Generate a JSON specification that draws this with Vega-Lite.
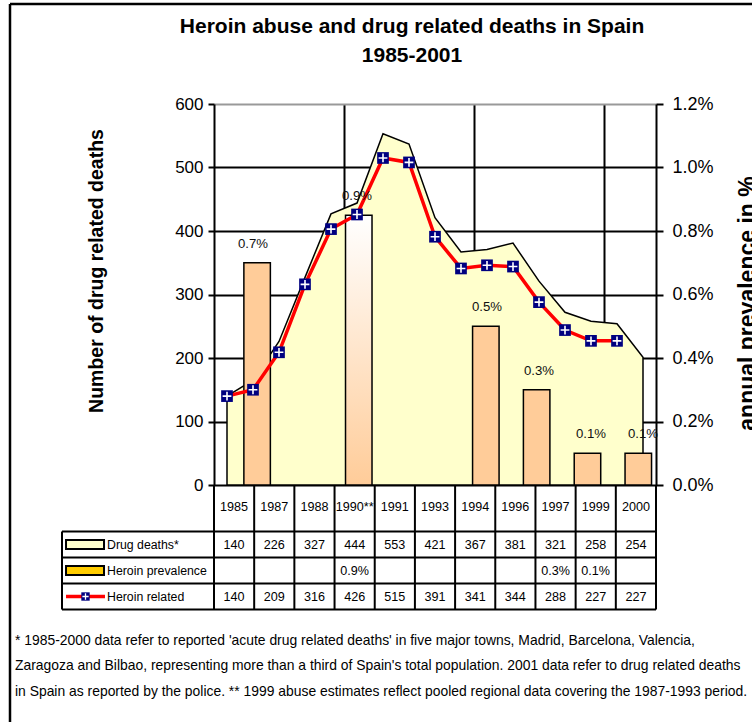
{
  "$schema": "https://vega.github.io/schema/vega-lite/v6.json",
  "autosize": "none",
  "width": 442,
  "height": 381,
  "padding": {"left": 214, "top": 104, "right": 96, "bottom": 237},
  "background": "white",
  "config": {"view": {"stroke": null}, "font": "Liberation Sans"},
  "datasets": {
    "series": [
      {"year": 1985, "deaths": 140, "heroin": 140},
      {"year": 1986, "deaths": 165, "heroin": 150, "prev": 0.007, "label": "0.7%"},
      {"year": 1987, "deaths": 226, "heroin": 209},
      {"year": 1988, "deaths": 327, "heroin": 316},
      {"year": 1989, "deaths": 427, "heroin": 403},
      {"year": 1990, "deaths": 444, "heroin": 426, "prev": 0.0085, "label": "0.9%"},
      {"year": 1991, "deaths": 553, "heroin": 515},
      {"year": 1992, "deaths": 537, "heroin": 508},
      {"year": 1993, "deaths": 421, "heroin": 391},
      {"year": 1994, "deaths": 367, "heroin": 341},
      {"year": 1995, "deaths": 371, "heroin": 346, "prev": 0.005, "label": "0.5%"},
      {"year": 1996, "deaths": 381, "heroin": 344},
      {"year": 1997, "deaths": 321, "heroin": 288, "prev": 0.003, "label": "0.3%"},
      {"year": 1998, "deaths": 272, "heroin": 244},
      {"year": 1999, "deaths": 258, "heroin": 227, "prev": 0.001, "label": "0.1%"},
      {"year": 2000, "deaths": 254, "heroin": 227},
      {"year": 2001, "deaths": 201, "prev": 0.001, "label": "0.1%"}
    ],
    "table": [
      {"col": 0, "year": "1985", "deaths": "140", "prev": "", "heroin": "140"},
      {"col": 1, "year": "1987", "deaths": "226", "prev": "", "heroin": "209"},
      {"col": 2, "year": "1988", "deaths": "327", "prev": "", "heroin": "316"},
      {"col": 3, "year": "1990**", "deaths": "444", "prev": "0.9%", "heroin": "426"},
      {"col": 4, "year": "1991", "deaths": "553", "prev": "", "heroin": "515"},
      {"col": 5, "year": "1993", "deaths": "421", "prev": "", "heroin": "391"},
      {"col": 6, "year": "1994", "deaths": "367", "prev": "", "heroin": "341"},
      {"col": 7, "year": "1996", "deaths": "381", "prev": "", "heroin": "344"},
      {"col": 8, "year": "1997", "deaths": "321", "prev": "0.3%", "heroin": "288"},
      {"col": 9, "year": "1999", "deaths": "258", "prev": "0.1%", "heroin": "227"},
      {"col": 10, "year": "2000", "deaths": "254", "prev": "", "heroin": "227"}
    ],
    "rows": [
      {"row": 1, "label": "Drug deaths*"},
      {"row": 2, "label": "Heroin prevalence"},
      {"row": 3, "label": "Heroin related"}
    ],
    "one": [{}]
  },
  "layer": [
    {
      "data": {"name": "series"},
      "mark": {"type": "area", "fill": "#FFFFCC", "stroke": "black", "strokeWidth": 1.5, "opacity": 1},
      "encoding": {
        "x": {"field": "year", "type": "quantitative", "scale": {"domain": [1984.5, 2001.5], "nice": false, "zero": false},
          "axis": {"values": [1989.5, 1994.5, 1999.5], "grid": true, "gridColor": "black", "gridWidth": 2, "gridOpacity": 1, "labels": false, "ticks": false, "domain": false, "title": null}},
        "y": {"field": "deaths", "type": "quantitative", "scale": {"domain": [0, 600], "nice": false},
          "axis": {"values": [0, 100, 200, 300, 400, 500, 600], "grid": true,
            "gridColor": {"condition": {"test": "datum.value === 600", "value": "#999999"}, "value": "black"},
            "gridWidth": 2, "gridOpacity": 1, "domainColor": "black", "domainWidth": 2, "tickColor": "black", "tickWidth": 2, "tickSize": 6,
            "labelPadding": 5, "labelFont": "Liberation Sans", "labelFontSize": 17, "labelColor": "black", "labelFlush": false, "labelOverlap": false,
            "title": "Number of drug related deaths", "titleFont": "Liberation Sans", "titleFontSize": 19.5, "titleFontWeight": "bold", "titleColor": "black",
            "titleAngle": -90, "titleX": -112, "titleY": 166.5, "titleAlign": "center", "titleBaseline": "alphabetic"}}
      }
    },
    {
      "data": {"name": "series"},
      "transform": [{"filter": "datum.prev != null && datum.year != 1990"}],
      "mark": {"type": "bar", "width": 26.5, "fill": "#FFCC99", "stroke": "black", "strokeWidth": 1.5, "opacity": 1},
      "encoding": {
        "x": {"field": "year", "type": "quantitative", "scale": {"domain": [1984.5, 2001.5], "nice": false, "zero": false}, "axis": null},
        "y": {"field": "prev", "type": "quantitative", "scale": {"domain": [0, 0.012], "nice": false},
          "axis": {"orient": "right", "values": [0, 0.002, 0.004, 0.006, 0.008, 0.01, 0.012], "format": ".1%", "grid": false,
            "domainColor": "black", "domainWidth": 2, "tickColor": "black", "tickWidth": 2, "tickSize": 7,
            "labelPadding": 9, "labelFont": "Liberation Sans", "labelFontSize": 18, "labelColor": "black", "labelFlush": false, "labelOverlap": false,
            "title": "annual prevalence in %", "titleFont": "Liberation Sans", "titleFontSize": 23, "titleFontWeight": "bold", "titleColor": "black",
            "titleAngle": -90, "titleX": 98, "titleY": 199, "titleAlign": "center", "titleBaseline": "alphabetic"}}
      }
    },
    {
      "data": {"name": "series"},
      "transform": [{"filter": "datum.year == 1990"}],
      "mark": {"type": "bar", "width": 26.5, "stroke": "black", "strokeWidth": 1.5, "opacity": 1,
        "fill": {"gradient": "linear", "x1": 0, "y1": 0, "x2": 0, "y2": 1, "stops": [{"offset": 0, "color": "#FFFFFF"}, {"offset": 1, "color": "#FFCC99"}]}},
      "encoding": {
        "x": {"field": "year", "type": "quantitative", "scale": {"domain": [1984.5, 2001.5], "nice": false, "zero": false}, "axis": null},
        "y": {"field": "prev", "type": "quantitative", "scale": {"domain": [0, 0.012], "nice": false}, "axis": null}
      }
    },
    {
      "data": {"name": "series"},
      "transform": [{"filter": "datum.heroin != null"}],
      "mark": {"type": "line", "color": "#FF0000", "strokeWidth": 3.5},
      "encoding": {
        "x": {"field": "year", "type": "quantitative", "scale": {"domain": [1984.5, 2001.5], "nice": false, "zero": false}, "axis": null},
        "y": {"field": "heroin", "type": "quantitative", "scale": {"domain": [0, 600], "nice": false}, "axis": null}
      }
    },
    {
      "data": {"name": "series"},
      "transform": [{"filter": "datum.heroin != null"}],
      "mark": {"type": "point", "shape": "square", "filled": true, "fill": "#000080", "strokeWidth": 0, "size": 137, "opacity": 1},
      "encoding": {
        "x": {"field": "year", "type": "quantitative", "scale": {"domain": [1984.5, 2001.5], "nice": false, "zero": false}, "axis": null},
        "y": {"field": "heroin", "type": "quantitative", "scale": {"domain": [0, 600], "nice": false}, "axis": null}
      }
    },
    {
      "data": {"name": "series"},
      "transform": [{"filter": "datum.heroin != null"}],
      "mark": {"type": "point", "shape": "M-0.75,0H0.75M0,-0.75V0.75", "filled": false, "stroke": "#FFFFFF", "strokeWidth": 1.6, "size": 137, "opacity": 1},
      "encoding": {
        "x": {"field": "year", "type": "quantitative", "scale": {"domain": [1984.5, 2001.5], "nice": false, "zero": false}, "axis": null},
        "y": {"field": "heroin", "type": "quantitative", "scale": {"domain": [0, 600], "nice": false}, "axis": null}
      }
    },
    {
      "data": {"name": "series"},
      "transform": [{"filter": "datum.prev != null"}],
      "mark": {"type": "text", "dy": -19, "font": "Liberation Sans", "fontSize": 13.2, "color": "#111111", "align": "center", "baseline": "middle"},
      "encoding": {
        "x": {"field": "year", "type": "quantitative", "scale": {"domain": [1984.5, 2001.5], "nice": false, "zero": false}, "axis": null},
        "y": {"field": "prev", "type": "quantitative", "scale": {"domain": [0, 0.012], "nice": false}, "axis": null},
        "text": {"field": "label", "type": "nominal"}
      }
    },
    {
      "layer": [
        {
          "data": {"name": "table"},
          "mark": {"type": "rule", "color": "black", "strokeWidth": 2, "xOffset": -20.09},
          "encoding": {
            "x": {"field": "col", "type": "quantitative", "scale": {"domain": [-0.5, 10.5], "nice": false, "zero": false}, "axis": null},
            "y": {"datum": -1.2885, "type": "quantitative", "scale": {"domain": [-15.9423, -1.2885], "nice": false, "zero": false, "reverse": true}, "axis": null},
            "y2": {"datum": 3.5}
          }
        },
        {
          "data": {"name": "one"},
          "mark": {"type": "rule", "color": "black", "strokeWidth": 2},
          "encoding": {
            "x": {"datum": 10.5, "type": "quantitative"},
            "y": {"datum": -1.2885, "type": "quantitative"},
            "y2": {"datum": 3.5}
          }
        },
        {
          "data": {"name": "one"},
          "mark": {"type": "rule", "color": "black", "strokeWidth": 2},
          "encoding": {
            "x": {"datum": -4.283, "type": "quantitative"},
            "y": {"datum": 0.5, "type": "quantitative"},
            "y2": {"datum": 3.5}
          }
        },
        {
          "data": {"name": "one"},
          "mark": {"type": "rule", "color": "black", "strokeWidth": 2},
          "encoding": {
            "x": {"datum": -4.283, "type": "quantitative"},
            "x2": {"datum": 10.5},
            "y": {"datum": 0.5, "type": "quantitative"}
          }
        },
        {
          "data": {"name": "rows"},
          "mark": {"type": "rule", "color": "black", "strokeWidth": 2, "yOffset": 13},
          "encoding": {
            "x": {"datum": -4.283, "type": "quantitative"},
            "x2": {"datum": 10.5},
            "y": {"field": "row", "type": "quantitative"}
          }
        },
        {
          "data": {"name": "table"},
          "mark": {"type": "text", "font": "Liberation Sans", "fontSize": 12.6, "color": "black", "align": "center", "baseline": "middle"},
          "encoding": {
            "x": {"field": "col", "type": "quantitative"},
            "y": {"datum": -0.43, "type": "quantitative"},
            "text": {"field": "year", "type": "nominal"}
          }
        },
        {
          "data": {"name": "table"},
          "mark": {"type": "text", "font": "Liberation Sans", "fontSize": 12.6, "color": "black", "align": "center", "baseline": "middle"},
          "encoding": {
            "x": {"field": "col", "type": "quantitative"},
            "y": {"datum": 1, "type": "quantitative"},
            "text": {"field": "deaths", "type": "nominal"}
          }
        },
        {
          "data": {"name": "table"},
          "mark": {"type": "text", "font": "Liberation Sans", "fontSize": 12.6, "color": "black", "align": "center", "baseline": "middle"},
          "encoding": {
            "x": {"field": "col", "type": "quantitative"},
            "y": {"datum": 2, "type": "quantitative"},
            "text": {"field": "prev", "type": "nominal"}
          }
        },
        {
          "data": {"name": "table"},
          "mark": {"type": "text", "font": "Liberation Sans", "fontSize": 12.6, "color": "black", "align": "center", "baseline": "middle"},
          "encoding": {
            "x": {"field": "col", "type": "quantitative"},
            "y": {"datum": 3, "type": "quantitative"},
            "text": {"field": "heroin", "type": "nominal"}
          }
        },
        {
          "data": {"name": "rows"},
          "mark": {"type": "text", "font": "Liberation Sans", "fontSize": 12.3, "color": "black", "align": "left", "baseline": "middle"},
          "encoding": {
            "x": {"datum": -3.163, "type": "quantitative"},
            "y": {"field": "row", "type": "quantitative"},
            "text": {"field": "label", "type": "nominal"}
          }
        },
        {
          "data": {"name": "rows"},
          "transform": [{"filter": "datum.row <= 2"}],
          "mark": {"type": "point", "shape": "M-1,-0.24H1V0.24H-1Z", "filled": true, "size": 1444, "stroke": "black", "strokeWidth": 2, "opacity": 1},
          "encoding": {
            "x": {"datum": -3.71, "type": "quantitative"},
            "y": {"field": "row", "type": "quantitative"},
            "fill": {"field": "label", "type": "nominal", "scale": {"domain": ["Drug deaths*", "Heroin prevalence"], "range": ["#FFFFCC", "#FFCC00"]}, "legend": null}
          }
        },
        {
          "data": {"name": "rows"},
          "transform": [{"filter": "datum.row == 3"}],
          "mark": {"type": "rule", "color": "#FF0000", "strokeWidth": 3.5},
          "encoding": {
            "x": {"datum": -4.183, "type": "quantitative"},
            "x2": {"datum": -3.213},
            "y": {"field": "row", "type": "quantitative"}
          }
        },
        {
          "data": {"name": "rows"},
          "transform": [{"filter": "datum.row == 3"}],
          "mark": {"type": "point", "shape": "square", "filled": true, "fill": "#000080", "strokeWidth": 0, "size": 70, "opacity": 1},
          "encoding": {
            "x": {"datum": -3.698, "type": "quantitative"},
            "y": {"field": "row", "type": "quantitative"}
          }
        },
        {
          "data": {"name": "rows"},
          "transform": [{"filter": "datum.row == 3"}],
          "mark": {"type": "point", "shape": "M-0.75,0H0.75M0,-0.75V0.75", "filled": false, "stroke": "#FFFFFF", "strokeWidth": 1.3, "size": 70, "opacity": 1},
          "encoding": {
            "x": {"datum": -3.698, "type": "quantitative"},
            "y": {"field": "row", "type": "quantitative"}
          }
        },
        {
          "data": {"name": "one"},
          "mark": {"type": "rule", "color": "black", "strokeWidth": 2.5},
          "encoding": {
            "x": {"datum": -5.577, "type": "quantitative"},
            "y": {"datum": -19.788, "type": "quantitative"},
            "y2": {"datum": 9.3}
          }
        },
        {
          "data": {"name": "one"},
          "mark": {"type": "rule", "color": "black", "strokeWidth": 2.5},
          "encoding": {
            "x": {"datum": -5.577, "type": "quantitative"},
            "x2": {"datum": 14.1},
            "y": {"datum": -19.788, "type": "quantitative"}
          }
        },
        {
          "data": {"name": "one"},
          "mark": {"type": "text", "text": ["Heroin abuse and drug related deaths in Spain", "1985-2001"], "font": "Liberation Sans", "fontSize": 21, "fontWeight": "bold", "lineHeight": 29, "align": "center", "baseline": "alphabetic", "color": "black"},
          "encoding": {
            "x": {"datum": 4.428, "type": "quantitative"},
            "y": {"datum": -18.662, "type": "quantitative"}
          }
        },
        {
          "data": {"name": "one"},
          "mark": {"type": "text", "text": [
            "* 1985-2000 data refer to reported 'acute drug related deaths' in five major towns, Madrid, Barcelona, Valencia,",
            "Zaragoza and Bilbao, representing more than a third of Spain's total population. 2001 data refer to drug related deaths",
            "in Spain as reported by the police. ** 1999 abuse estimates reflect pooled regional data covering the 1987-1993 period."
          ], "font": "Liberation Sans", "fontSize": 13.9, "lineHeight": 25.5, "align": "left", "baseline": "alphabetic", "color": "black"},
          "encoding": {
            "x": {"datum": -5.453, "type": "quantitative"},
            "y": {"datum": 4.85, "type": "quantitative"}
          }
        }
      ]
    }
  ],
  "resolve": {"scale": {"x": "independent", "y": "independent"}}
}
